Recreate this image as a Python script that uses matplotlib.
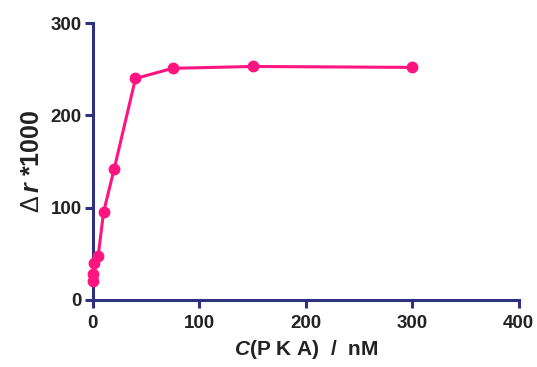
import matplotlib
matplotlib.use("Agg")
import matplotlib.pyplot as plt

conc = [0, 0.5, 1.5, 5, 10, 20, 40, 75, 150, 300]
delta_r = [20, 28, 40, 48, 95, 142, 240, 251, 253, 252]
xticks = [0, 100, 200, 300, 400]
yticks = [0, 100, 200, 300]

plt.rcParams['font.family'] = ['Liberation Sans', 'DejaVu Sans']
plt.rcParams['mathtext.fontset'] = 'custom'
plt.rcParams['mathtext.rm'] = 'Liberation Sans'
plt.rcParams['mathtext.it'] = 'Liberation Sans:italic:bold'
plt.rcParams['mathtext.bf'] = 'Liberation Sans:bold'

pink = '#FF1480'
navy = '#2E3080'

fig = plt.figure(figsize=(5.37, 3.67), dpi=100)
ax = fig.add_axes([0.173, 0.183, 0.793, 0.754])
ax.plot(conc, delta_r, color=pink, lw=2.2, marker='o', ms=7.5, mec=pink, mfc=pink,
        clip_on=False, zorder=3)
ax.set_xlim(0, 400)
ax.set_ylim(0, 300)
ax.set_xticks(xticks)
ax.set_yticks(yticks)
for s in ['top', 'right']:
    ax.spines[s].set_visible(False)
for s in ['left', 'bottom']:
    ax.spines[s].set_color(navy)
    ax.spines[s].set_linewidth(2.2)
ax.tick_params(axis='both', direction='out', length=6, width=2.2, color=navy,
               labelsize=13.5, labelcolor='#222222')
ax.tick_params(axis='x', pad=5)
ax.tick_params(axis='y', pad=2)
for lab in ax.get_xticklabels() + ax.get_yticklabels():
    lab.set_fontweight('bold')
ax.set_xlabel(r'$\mathit{C}$(P K A)  /  nM', fontsize=15, fontweight='bold', color='#222222', labelpad=4)
ax.set_ylabel(r'$\mathrm{\Delta}\,\mathit{r}$ *1000', fontsize=18, fontweight='bold', color='#222222', labelpad=5)
fig.savefig('out.png', dpi=100)
